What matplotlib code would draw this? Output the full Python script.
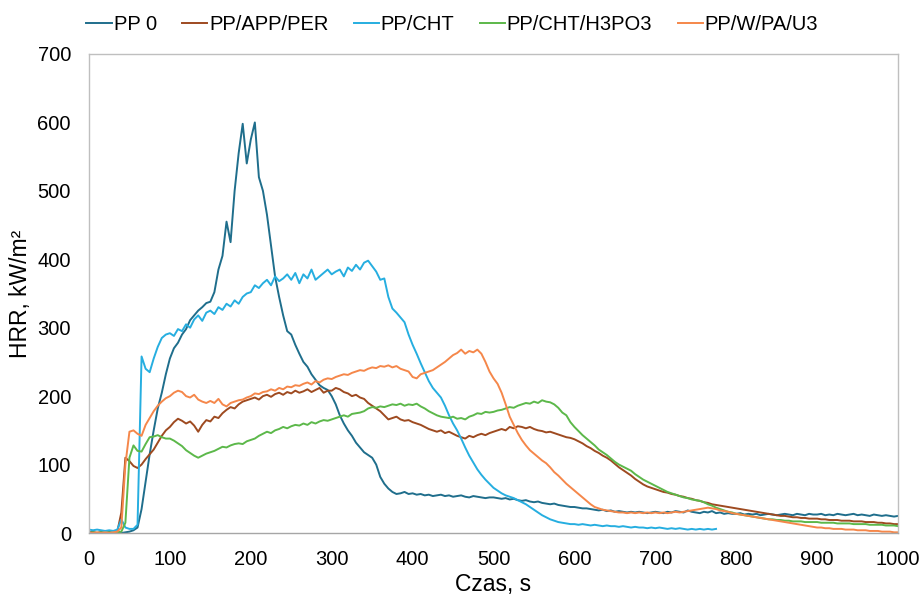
import matplotlib
matplotlib.use("Agg")
import matplotlib.pyplot as plt
import numpy as np

plt.rcParams["font.family"] = ["Liberation Sans", "DejaVu Sans"]

# time grid, 5 s step
t_full = np.arange(0, 1001, 5)
t_cht = np.arange(0, 776, 5)

hrr_pp0 = [
    2, 1, 0, 1, 0, 1, 0, 1, 0, 1, 2, 4, 8, 35, 75, 115, 150, 182, 205, 232,
    255, 270, 278, 290, 298, 311, 318, 325, 330, 336, 338, 352, 385, 405, 455, 425, 500, 555, 598, 540,
    575, 600, 520, 500, 465, 420, 375, 345, 318, 295, 290, 275, 262, 250, 243, 232, 224, 216, 212, 209,
    200, 188, 172, 160, 150, 142, 132, 125, 118, 114, 110, 100, 82, 72, 65, 60, 57, 58, 60, 57,
    58, 56, 57, 55, 56, 54, 55, 56, 54, 55, 53, 54, 55, 53, 52, 54, 53, 52, 51, 52,
    52, 51, 50, 51, 49, 50, 48, 47, 48, 46, 45, 46, 44, 43, 42, 43, 41, 40, 39, 38,
    38, 37, 36, 36, 35, 34, 33, 34, 32, 33, 31, 32, 31, 30, 31, 30, 31, 30, 29, 30,
    31, 30, 29, 31, 30, 32, 31, 30, 33, 31, 30, 29, 31, 30, 32, 29, 30, 28, 29, 28,
    28, 29, 27, 28, 27, 28, 26, 27, 28, 27, 26, 27, 28, 27, 26, 28, 27, 26, 28, 27,
    27, 28, 26, 27, 26, 28, 27, 26, 27, 28, 26, 27, 26, 25, 27, 26, 25, 26, 25, 24, 25,
]

hrr_app = [
    0, 1, 0, 1, 0, 1, 0, 2, 30, 110, 105, 98, 95, 100, 108, 115, 122, 132, 142, 150,
    155, 162, 167, 164, 160, 163, 157, 148, 158, 165, 163, 170, 168, 175, 180, 184, 182, 188, 192, 194,
    196, 198, 195, 200, 202, 199, 203, 205, 202, 206, 204, 208, 205, 207, 210, 206, 209, 212, 205, 208,
    208, 212, 210, 206, 204, 200, 202, 198, 196, 190, 186, 182, 178, 172, 166, 168, 170, 166, 164, 165,
    162, 160, 158, 155, 152, 150, 148, 150, 146, 148, 145, 142, 140, 138, 142, 140, 143, 145, 143, 146,
    148, 150, 152, 150, 155, 153, 156, 155, 153, 155, 152, 150, 149, 147, 148, 146, 144, 142, 140, 139,
    137, 134, 131, 127, 124, 120, 117, 113, 110, 106, 101, 96, 92, 88, 84, 79, 75, 71, 68, 66,
    64, 62, 60, 59, 57, 56, 54, 53, 51, 50, 48, 47, 45, 44, 42, 41, 40, 39, 38, 37,
    36, 35, 34, 33, 32, 31, 30, 29, 28, 27, 26, 25, 25, 24, 23, 23, 22, 22, 21, 21,
    21, 20, 20, 19, 19, 19, 18, 18, 18, 17, 17, 17, 16, 16, 16, 15, 15, 14, 14, 13, 13,
]

hrr_cht = [
    5, 4, 5, 4, 3, 4, 3, 5, 20, 8, 6, 6, 12, 258, 240, 235, 255, 272, 285, 290,
    292, 288, 298, 295, 305, 300, 312, 318, 310, 322, 325, 320, 330, 326, 335, 331, 340, 335, 345, 350,
    352, 362, 358, 365, 370, 362, 375, 368, 372, 378, 370, 380, 365, 378, 372, 385, 370, 375, 380, 385,
    378, 382, 385, 375, 388, 383, 392, 385, 395, 398, 390, 382, 370, 372, 345, 328, 322, 315, 308, 290,
    275, 262, 248, 235, 222, 212, 205, 198, 186, 172, 160, 150, 138, 125, 113, 103, 93, 85, 78, 72,
    66, 62, 58, 55, 53, 51, 48, 45, 42, 38, 34, 30, 26, 23, 20, 18, 16, 15, 14, 13,
    13, 12, 13, 12, 11, 12, 11, 10, 11, 10, 10, 9, 10, 9, 8, 9, 8, 8, 7, 8,
    7, 8, 7, 6, 7, 6, 7, 6, 5, 6, 5, 6, 5, 6, 5, 6,
]

hrr_h3po3 = [
    0, 1, 0, 1, 0, 1, 0, 1, 2, 15, 110, 128, 120, 119, 130, 140, 141, 143, 140, 138,
    138, 135, 131, 127, 121, 117, 113, 110, 113, 116, 118, 120, 123, 126, 125, 128, 130, 131, 130, 134,
    136, 138, 142, 145, 148, 146, 150, 152, 155, 153, 156, 158, 157, 160, 158, 162, 160, 163, 165, 164,
    166, 168, 170, 172, 170, 174, 175, 176, 178, 182, 184, 183, 185, 184, 186, 188, 187, 189, 186, 188,
    187, 189, 185, 182, 178, 175, 172, 170, 169, 168, 170, 167, 168, 166, 170, 172, 175, 174, 177, 176,
    177, 179, 180, 182, 184, 183, 186, 188, 190, 189, 192, 190, 194, 192, 191, 188, 183, 176, 172, 162,
    155, 149, 143, 138, 133, 128, 122, 118, 114, 109, 104, 100, 97, 94, 91, 86, 82, 78, 75, 72,
    69, 66, 63, 60, 58, 56, 54, 52, 51, 49, 48, 47, 45, 42, 40, 37, 35, 33, 31, 30,
    28, 27, 26, 25, 24, 23, 22, 21, 20, 20, 19, 19, 18, 18, 17, 17, 17, 16, 16, 16,
    16, 15, 15, 15, 15, 14, 14, 14, 14, 13, 13, 13, 13, 12, 12, 12, 12, 11, 11, 11, 10,
]

hrr_u3 = [
    1, 0, 1, 0, 1, 0, 1, 2, 8, 100, 148, 150, 145, 142, 158, 168, 178, 186, 192, 197,
    200, 205, 208, 206, 200, 198, 202, 195, 192, 190, 193, 190, 196, 188, 185, 190, 192, 194, 195, 198,
    200, 204, 203, 206, 207, 210, 208, 212, 210, 214, 213, 216, 215, 218, 220, 217, 222, 220, 224, 226,
    225, 228, 230, 232, 231, 234, 236, 238, 237, 240, 242, 241, 244, 243, 245, 242, 244, 240, 238, 236,
    228, 226, 232, 234, 236, 238, 242, 246, 250, 255, 260, 263, 268, 262, 266, 264, 268, 262, 250, 236,
    226, 218, 205, 188, 170, 158, 146, 136, 128, 121, 116, 111, 106, 102, 96, 89, 84, 78, 72, 67,
    62, 57, 52, 47, 42, 38, 36, 34, 33, 32, 31, 30, 30, 29, 30, 29, 30, 29, 30, 29,
    30, 29, 30, 29, 30, 31, 30, 31, 32, 33, 34, 35, 36, 37, 36, 35, 33, 32, 31, 29,
    28, 27, 26, 25, 24, 23, 22, 21, 20, 19, 18, 17, 16, 15, 14, 13, 12, 11, 10, 9,
    8, 8, 7, 7, 6, 6, 6, 5, 5, 5, 4, 4, 4, 3, 3, 3, 2, 2, 2, 1, 1,
]

series = [
    ("PP 0", t_full, hrr_pp0, "#1f6e8c"),
    ("PP/APP/PER", t_full, hrr_app, "#9e4a20"),
    ("PP/CHT", t_cht, hrr_cht, "#26aee0"),
    ("PP/CHT/H3PO3", t_full, hrr_h3po3, "#5cb84a"),
    ("PP/W/PA/U3", t_full, hrr_u3, "#f5874a"),
]

fig = plt.figure(figsize=(9.23, 5.96), dpi=100)
ax = fig.add_axes([0.0964, 0.1057, 0.8766, 0.8037])

for label, t, y, color in series:
    ax.plot(t, y, color=color, linewidth=1.4, label=label)

ax.set_xlim(0, 1000)
ax.set_ylim(0, 700)
ax.set_xticks(np.arange(0, 1001, 100))
ax.set_yticks(np.arange(0, 701, 100))
ax.tick_params(axis="y", length=0, labelsize=14.5, pad=13)
ax.tick_params(axis="x", length=0, labelsize=14.5, pad=12)
for spine in ax.spines.values():
    spine.set_color("#bfbfbf")
    spine.set_linewidth(1.0)
ax.spines["bottom"].set_color("#a6a6a6")

ax.set_xlabel("Czas, s", fontsize=16.5, labelpad=3)
ax.set_ylabel("HRR, kW/m²", fontsize=16.5, labelpad=4)

fig.legend(loc="upper center", bbox_to_anchor=(0.49, 1.005), ncol=5, frameon=False,
           fontsize=14.5, handlelength=1.25, handletextpad=0.1, columnspacing=1.25)

fig.savefig("out.png", dpi=100)
